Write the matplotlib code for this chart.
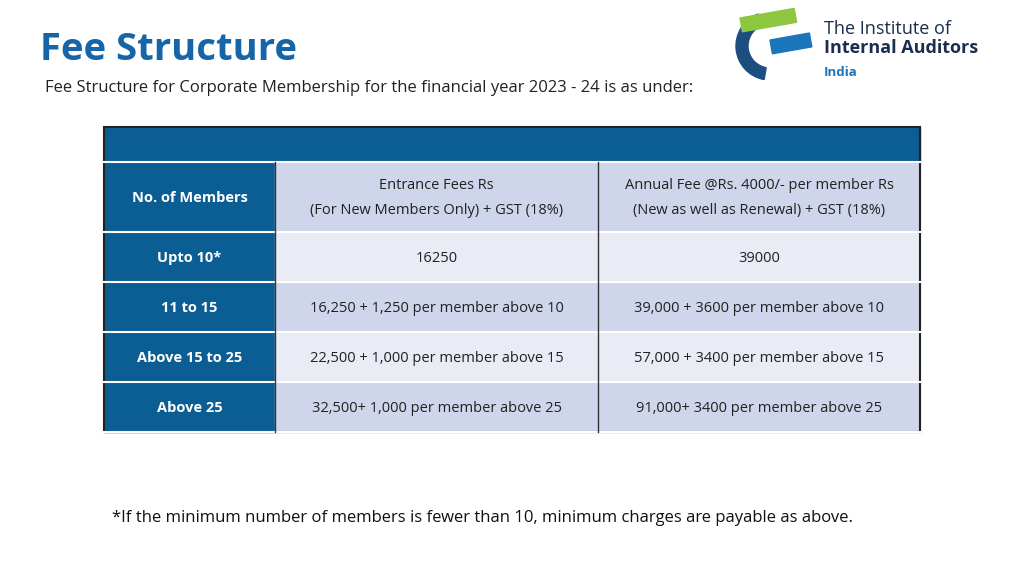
import matplotlib
matplotlib.use("Agg")
import matplotlib.pyplot as plt
from matplotlib.patches import Rectangle, Wedge

members = ["No. of Members", "Upto 10*", "11 to 15", "Above 15 to 25", "Above 25"]
entrance = ["Entrance Fees Rs\n(For New Members Only) + GST (18%)", "16250",
            "16,250 + 1,250 per member above 10", "22,500 + 1,000 per member above 15",
            "32,500+ 1,000 per member above 25"]
annual = ["Annual Fee @Rs. 4000/- per member Rs\n(New as well as Renewal) + GST (18%)", "39000",
          "39,000 + 3600 per member above 10", "57,000 + 3400 per member above 15",
          "91,000+ 3400 per member above 25"]

FONT = "Open Sans"
fig = plt.figure(figsize=(10.24, 5.76), dpi=100)
ax = fig.add_axes([0, 0, 1, 1])
ax.set_xlim(0, 1024); ax.set_ylim(576, 0); ax.axis("off")

DARK = "#0B5E94"
ax.text(40, 50, "Fee Structure", fontsize=27.5, fontweight="bold", color="#1565A8", va="center", family=FONT)
ax.text(45, 88, "Fee Structure for Corporate Membership for the financial year 2023 - 24 is as under:",
        fontsize=12, va="center", family=FONT, color="#222222")

# logo
ax.add_patch(Wedge((770, 46), 34, 100, 250, width=12, color="#1C4E80"))
ax.add_patch(Rectangle((740, 18), 55, 14, color="#8DC63F", angle=-10))
ax.add_patch(Rectangle((770, 40), 40, 14, color="#1A75BB", angle=-10))
ax.text(824, 29, "The Institute of", fontsize=13, va="center", family=FONT, color="#1C2E50")
ax.text(824, 48, "Internal Auditors", fontsize=13, fontweight="bold", va="center", family=FONT, color="#1C2E50")
ax.text(824, 73, "India", fontsize=9.5, va="center", family=FONT, color="#1A75BB", fontweight="bold")

xs = [104, 275, 598, 920]
ys = [127, 162, 232, 282, 332, 382, 432]
ax.add_patch(Rectangle((xs[0], ys[0]), xs[3] - xs[0], ys[1] - ys[0], color=DARK))
light = ["#CFD5EA", "#E9EBF5"]
for i in range(5):
    y0, y1 = ys[i + 1], ys[i + 2]
    ax.add_patch(Rectangle((xs[0], y0), xs[1] - xs[0], y1 - y0, color=DARK))
    ax.add_patch(Rectangle((xs[1], y0), xs[3] - xs[1], y1 - y0, color=light[i % 2]))
    cy = (y0 + y1) / 2 + 1
    ax.text((xs[0] + xs[1]) / 2, cy, members[i], color="white", fontweight="bold", fontsize=10.5,
            ha="center", va="center", family=FONT)
    ax.text((xs[1] + xs[2]) / 2, cy, entrance[i], fontsize=10.5, ha="center", va="center",
            family=FONT, color="#222222", linespacing=1.9)
    ax.text((xs[2] + xs[3]) / 2, cy, annual[i], fontsize=10.5, ha="center", va="center",
            family=FONT, color="#222222", linespacing=1.9)
for y in ys[1:]:
    ax.plot([xs[0], xs[3]], [y, y], color="white", lw=1.5)
for x in xs[1:3]:
    ax.plot([x, x], [ys[1], ys[-1]], color="#333333", lw=1)
ax.add_patch(Rectangle((xs[0], ys[0]), xs[3] - xs[0], ys[-1] - ys[0], fill=False, ec="#222222", lw=1.5))

ax.text(112, 518, "*If the minimum number of members is fewer than 10, minimum charges are payable as above.",
        fontsize=12, va="center", family=FONT, color="#111111")
fig.savefig("out.png", dpi=100)
